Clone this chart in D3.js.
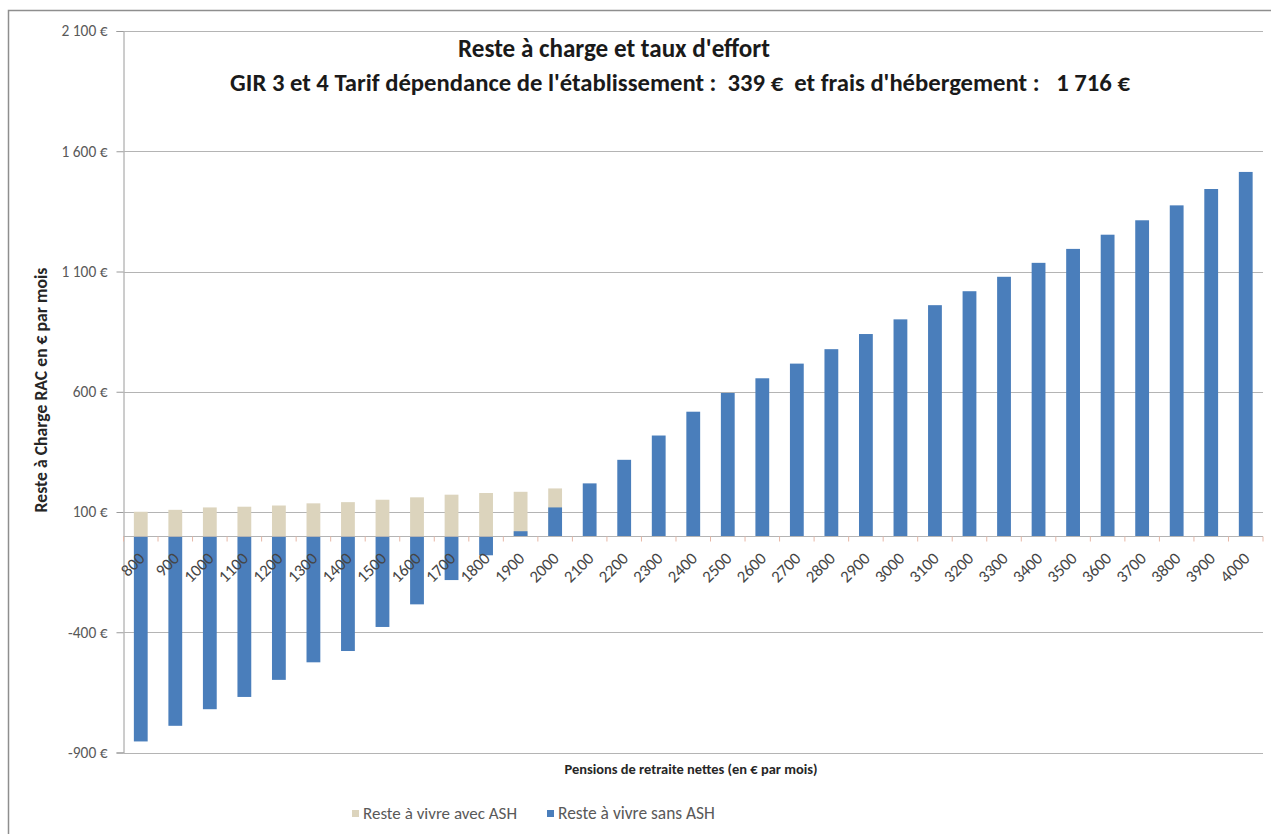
<!DOCTYPE html>
<html lang="fr">
<head>
<meta charset="utf-8">
<title>Reste à charge et taux d'effort</title>
<script src="https://cdn.jsdelivr.net/npm/d3@7"></script>
<style>
  html, body { margin: 0; padding: 0; background: #fff; }
  svg { display: block; }
  text { font-family: Carlito, Lato, "Open Sans", "Liberation Sans", sans-serif; }
</style>
</head>
<body>
<svg id="chart" width="1271" height="834"></svg>
<script>
// Pensions de retraite nettes (€ par mois)
const pensions = [800, 900, 1000, 1100, 1200, 1300, 1400, 1500, 1600, 1700, 1800, 1900, 2000,
  2100, 2200, 2300, 2400, 2500, 2600, 2700, 2800, 2900, 3000, 3100, 3200, 3300, 3400, 3500,
  3600, 3700, 3800, 3900, 4000];

// Reste à vivre avec ASH (only where the ASH applies)
const resteAvecASH = [101, 109, 119, 122, 127, 136, 141, 151, 161, 172, 179, 184, 198,
  null, null, null, null, null, null, null, null, null, null, null, null, null, null, null,
  null, null, null, null, null];

// Reste à vivre sans ASH
const resteSansASH = [-854, -789, -720, -669, -598, -525, -478, -378, -284, -183, -80, 20, 119,
  219, 317, 418, 517, 595, 656, 717, 777, 840, 901, 960, 1018, 1078, 1136, 1194,
  1253, 1313, 1375, 1443, 1514];

const yTicks = [-900, -400, 100, 600, 1100, 1600, 2100];

const seriesNames = ["Reste à vivre avec ASH", "Reste à vivre sans ASH"];
const colors = ["#dcd4bd", "#4a7ebb"];

const titleLine1 = "Reste à charge et taux d'effort";
const titleLine2 = "GIR 3 et 4 Tarif dépendance de l'établissement :  339 €  et frais d'hébergement :   1 716 €";
const yTitle = "Reste à Charge RAC en € par mois";
const xTitle = "Pensions de retraite nettes (en € par mois)";

const svg = d3.select("#chart");
const plot = { left: 123.5, right: 1263, top: 31, bottom: 752.5 };

// scale a text's font size so that it spans the given width
function fitWidth(sel, width) {
  sel.each(function () {
    const base = parseFloat(this.getAttribute("font-size"));
    const len = this.getComputedTextLength();
    if (len > 0) this.setAttribute("font-size", (base * width / len).toFixed(2));
  });
  return sel;
}

const fr = d3.formatLocale({ decimal: ",", thousands: "\u00a0", grouping: [3], currency: ["", " €"], minus: "-" });
const fmt = v => fr.format(",")(v) + " €";

const x = d3.scaleBand().domain(pensions).range([plot.left, plot.right]).paddingInner(0.6).paddingOuter(0.3);
const y = d3.scaleLinear().domain([-900, 2100]).range([plot.bottom, plot.top]);

// chart frame
svg.append("rect").attr("x", 8.5).attr("y", 10.5).attr("width", 1300).attr("height", 900)
  .attr("fill", "#fff").attr("stroke", "#8e8e8e").attr("stroke-width", 1.5);

// y axis with euro labels
const yAxis = d3.axisLeft(y).tickValues(yTicks).tickFormat(fmt).tickSize(7).tickPadding(9);
const gy = svg.append("g").attr("transform", `translate(${plot.left},0)`).call(yAxis);
gy.select(".domain").attr("stroke", "#9a9a9a");
gy.selectAll(".tick line").attr("stroke", "#9a9a9a");
const yLabels = gy.selectAll(".tick text").attr("fill", "#595959").attr("font-size", 12);
const refLabel = yLabels.filter(d => d === 2100);
fitWidth(refLabel, 46);
yLabels.attr("font-size", refLabel.attr("font-size"));

// horizontal gridlines
svg.append("g").selectAll("line").data(yTicks).join("line")
  .attr("x1", plot.left).attr("x2", plot.right)
  .attr("y1", d => Math.round(y(d)) + 0.5).attr("y2", d => Math.round(y(d)) + 0.5)
  .attr("stroke", "#b4b4b4").attr("stroke-width", 1.2);

// bars: the ASH series sits behind, the series without ASH on top
const barsAvec = pensions.map((p, i) => ({ p, v: resteAvecASH[i] })).filter(d => d.v != null);
const barsSans = pensions.map((p, i) => ({ p, v: resteSansASH[i] }));

svg.append("g").selectAll("rect").data(barsAvec).join("rect")
  .attr("x", d => x(d.p)).attr("width", x.bandwidth())
  .attr("y", d => y(Math.max(0, d.v))).attr("height", d => Math.abs(y(d.v) - y(0)))
  .attr("fill", colors[0]);

svg.append("g").selectAll("rect").data(barsSans).join("rect")
  .attr("x", d => x(d.p)).attr("width", x.bandwidth())
  .attr("y", d => y(Math.max(0, d.v))).attr("height", d => Math.abs(y(d.v) - y(0)))
  .attr("fill", colors[1]);

// category axis along zero
const y0 = Math.round(y(0)) + 0.5;
svg.append("line").attr("x1", plot.left).attr("x2", plot.right).attr("y1", y0).attr("y2", y0)
  .attr("stroke", "#b4b4b4").attr("stroke-width", 1.2);
const step = x.step();
svg.append("g").selectAll("line").data(d3.range(pensions.length + 1)).join("line")
  .attr("x1", i => plot.left + i * step).attr("x2", i => plot.left + i * step)
  .attr("y1", y0).attr("y2", y0 + 5)
  .attr("stroke", "#e7b7a6").attr("stroke-width", 1);

const catLabels = svg.append("g").selectAll("text").data(pensions).join("text")
  .attr("transform", d => `translate(${x(d) + x.bandwidth() / 2 + 5},${y0 + 23}) rotate(-45)`)
  .attr("text-anchor", "end")
  .attr("font-size", 14).attr("fill", "#454545")
  .text(d => d);
const refCat = catLabels.filter(d => d === 1000);
fitWidth(refCat, 34);
catLabels.attr("font-size", refCat.attr("font-size"));

// titles
fitWidth(svg.append("text").attr("x", 614).attr("y", 57).attr("text-anchor", "middle")
  .attr("font-size", 18).attr("font-weight", "bold").attr("fill", "#1a1a1a").text(titleLine1), 312);
fitWidth(svg.append("text").attr("x", 680).attr("y", 91).attr("text-anchor", "middle")
  .attr("font-size", 18).attr("font-weight", "bold").attr("fill", "#1a1a1a")
  .attr("xml:space", "preserve").style("white-space", "pre").text(titleLine2), 900);

fitWidth(svg.append("text").attr("transform", `translate(47,390) rotate(-90)`).attr("text-anchor", "middle")
  .attr("font-size", 12.5).attr("font-weight", "bold").attr("fill", "#262626").text(yTitle), 245);
fitWidth(svg.append("text").attr("x", 691).attr("y", 774).attr("text-anchor", "middle")
  .attr("font-size", 12.5).attr("font-weight", "bold").attr("fill", "#262626").text(xTitle), 253);

// legend
const legend = svg.append("g");
const legendX = [352, 547];
const legendW = [154, 157];
seriesNames.forEach((name, i) => {
  legend.append("rect").attr("x", legendX[i]).attr("y", 810).attr("width", 7).attr("height", 7)
    .attr("fill", colors[i]);
  fitWidth(legend.append("text").attr("x", legendX[i] + 11).attr("y", 819)
    .attr("font-size", 12.5).attr("fill", "#595959").text(name), legendW[i]);
});
</script>
</body>
</html>
